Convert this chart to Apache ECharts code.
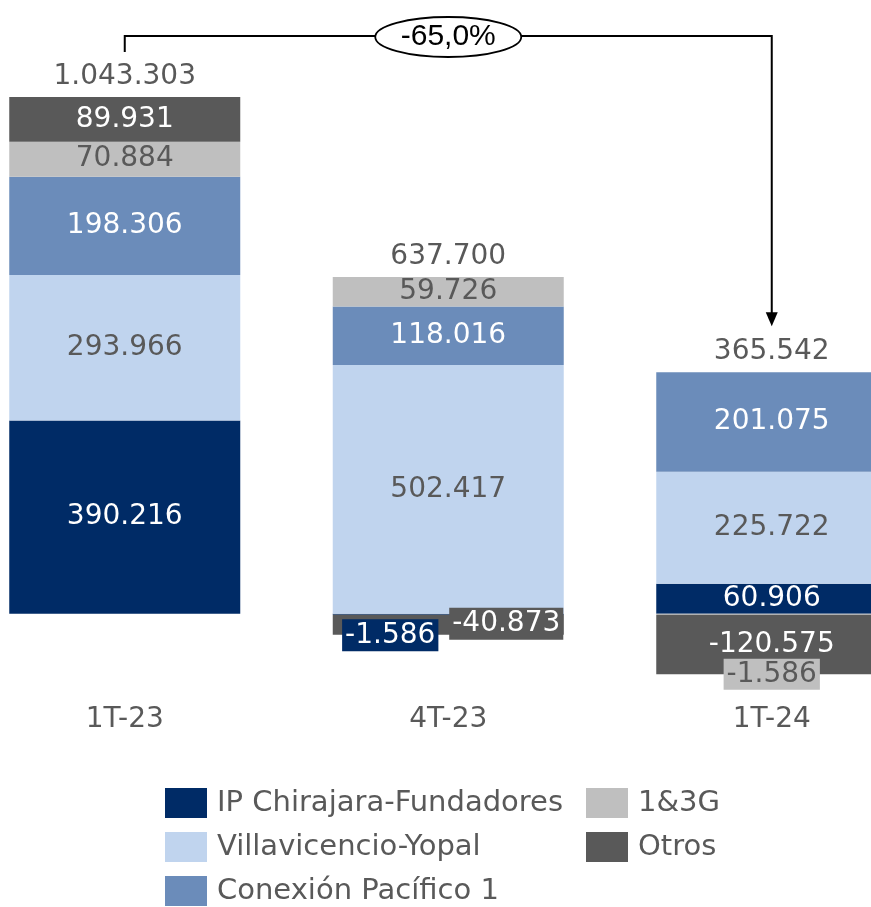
<!DOCTYPE html>
<html>
<head>
<meta charset="utf-8">
<script src="https://cdn.jsdelivr.net/npm/echarts@6/dist/echarts.min.js"></script>
<style>
  html, body { margin: 0; padding: 0; background: #fff; }
  #main { width: 871px; height: 907px; }
</style>
</head>
<body>
<div id="main"></div>
<script>
// datos del gráfico
const categories = ['1T-23', '4T-23', '1T-24'];
const ipChirajara = [390216, -1586, 60906];
const villavicencio = [293966, 502417, 225722];
const conexion = [198306, 118016, 201075];
const g13 = [70884, 59726, -1586];
const otros = [89931, -40873, -120575];
const variacion = '-65,0%';

const FONT = 'DejaVu Sans';
const GRIS = '#595959';

function fmt(v) {
  const s = String(Math.abs(v)).replace(/\B(?=(\d{3})+(?!\d))/g, '.');
  return (v < 0 ? '-' : '') + s;
}

const allSeries = [ipChirajara, villavicencio, conexion, g13, otros];
const positivos = categories.map((c, i) => allSeries.reduce((a, s) => a + (s[i] > 0 ? s[i] : 0), 0));
const totales = categories.map((c, i) => allSeries.reduce((a, s) => a + s[i], 0));

// etiquetas especiales para los valores negativos
function withLabels(values, special) {
  return values.map((v, i) => special[i] ? { value: v, label: special[i] } : v);
}

function barSeries(name, data, color, labelColor) {
  return {
    name: name,
    type: 'bar',
    stack: 'total',
    barWidth: 231,
    barGap: '-100%',
    data: data,
    itemStyle: { color: color },
    label: {
      show: true,
      position: 'inside',
      color: labelColor,
      fontFamily: FONT,
      fontSize: 28,
      formatter: p => fmt(p.value)
    }
  };
}

const legendText = { fontFamily: FONT, fontSize: 29, color: GRIS, lineHeight: 30, padding: [0, 0, 0, 5] };

const chart = echarts.init(document.getElementById('main'));
const option = {
  animation: false,
  textStyle: { fontFamily: FONT },
  grid: { left: -37, right: -62.5, top: 69, bottom: 204, outerBoundsMode: 'none', containLabel: false },
  legend: [
    {
      left: 165, top: 788, orient: 'vertical', padding: 0,
      itemWidth: 42, itemHeight: 30, itemGap: 14, icon: 'rect',
      data: ['IP Chirajara-Fundadores', 'Villavicencio-Yopal', 'Conexión Pacífico 1'],
      textStyle: legendText
    },
    {
      left: 586, top: 788, orient: 'vertical', padding: 0,
      itemWidth: 42, itemHeight: 30, itemGap: 14, icon: 'rect',
      data: ['1&3G', 'Otros'],
      textStyle: legendText
    }
  ],
  xAxis: {
    type: 'category',
    data: categories,
    axisLine: { show: false, onZero: false },
    axisTick: { show: false },
    axisLabel: { color: GRIS, fontFamily: FONT, fontSize: 28, margin: 3 }
  },
  yAxis: {
    type: 'value',
    show: false,
    min: -180000,
    max: 1100000,
    splitLine: { show: false }
  },
  series: [
    barSeries('IP Chirajara-Fundadores', withLabels(ipChirajara, {
      1: { offset: [-58, 21], backgroundColor: '#002B66', padding: [3, 3, 1, 3] }
    }), '#002B66', '#fff'),
    barSeries('Villavicencio-Yopal', villavicencio, '#C0D4EE', GRIS),
    barSeries('Conexión Pacífico 1', conexion, '#6B8CBA', '#fff'),
    barSeries('1&3G', withLabels(g13, {
      2: { offset: [0, 60], backgroundColor: '#BFBFBF', padding: [2, 3, 1, 3] }
    }), '#BFBFBF', GRIS),
    barSeries('Otros', withLabels(otros, {
      1: { offset: [58, -1], backgroundColor: GRIS, padding: [3, 3, 1, 3] }
    }), GRIS, '#fff'),
    {
      name: 'total',
      type: 'scatter',
      symbolSize: 1,
      itemStyle: { color: '#fff', opacity: 0 },
      data: categories.map((c, i) => [c, positivos[i]]),
      label: {
        show: true,
        position: 'top',
        distance: 6,
        color: GRIS,
        opacity: 1,
        fontFamily: FONT,
        fontSize: 28,
        formatter: p => fmt(totales[p.dataIndex])
      }
    }
  ]
};
chart.setOption(option);

// flecha de variación entre 1T-23 y 1T-24
const p0 = chart.convertToPixel({ xAxisIndex: 0, yAxisIndex: 0 }, [categories[0], positivos[0]]);
const p2 = chart.convertToPixel({ xAxisIndex: 0, yAxisIndex: 0 }, [categories[2], positivos[2]]);
const pm = chart.convertToPixel({ xAxisIndex: 0, yAxisIndex: 0 }, [categories[1], 0]);
const yTop = 36;
const yStart = p0[1] - 45;
const yEnd = p2[1] - 46;
chart.setOption({
  graphic: [
    {
      type: 'polyline',
      shape: { points: [[p0[0], yStart], [p0[0], yTop], [p2[0], yTop], [p2[0], yEnd - 12]] },
      style: { stroke: '#000', lineWidth: 2, fill: null },
      z: 100
    },
    {
      type: 'polygon',
      shape: { points: [[p2[0] - 6, yEnd - 14], [p2[0] + 6, yEnd - 14], [p2[0], yEnd]] },
      style: { fill: '#000' },
      z: 100
    },
    {
      type: 'ellipse',
      shape: { cx: pm[0], cy: yTop + 1, rx: 73, ry: 20 },
      style: { fill: '#fff', stroke: '#000', lineWidth: 1.8 },
      z: 101
    },
    {
      type: 'text',
      x: pm[0], y: yTop + 1,
      style: {
        text: variacion, fill: '#000', font: '30px "Liberation Sans"',
        align: 'center', verticalAlign: 'middle'
      },
      z: 102
    }
  ]
});
</script>
</body>
</html>
